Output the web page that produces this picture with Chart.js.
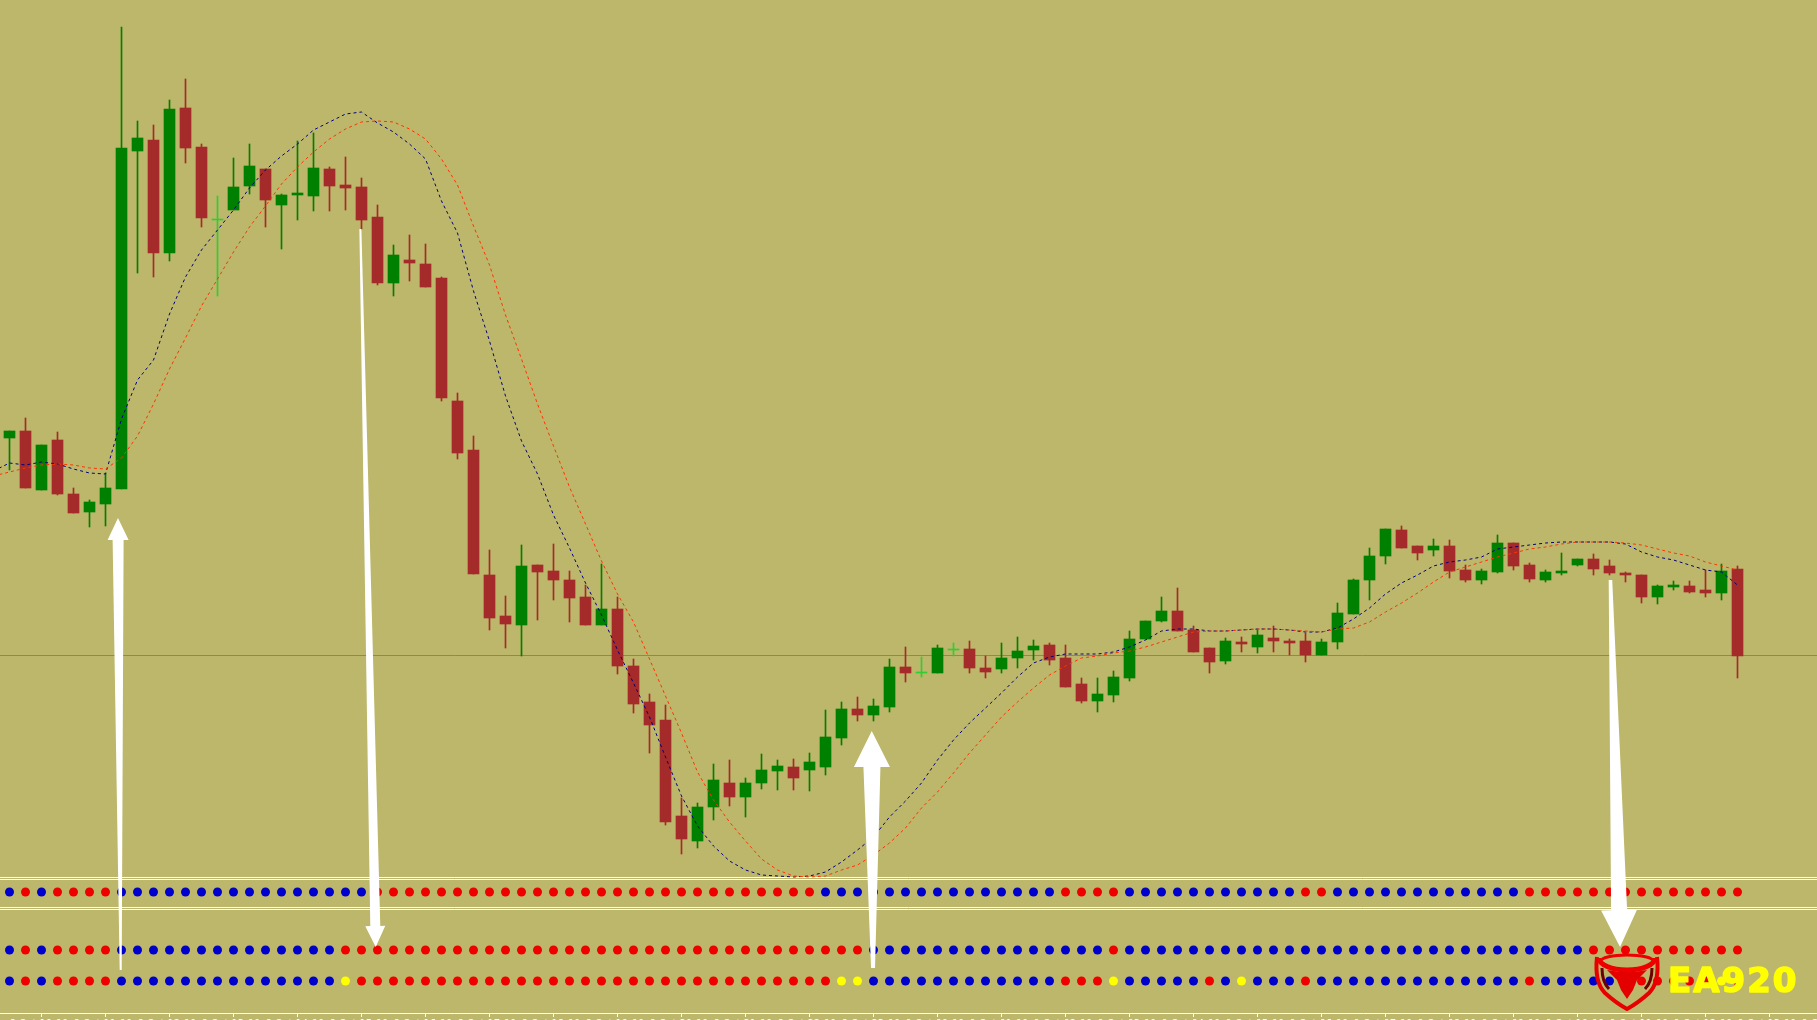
<!DOCTYPE html>
<html>
<head>
<meta charset="utf-8">
<title>EA920</title>
<script src="https://cdn.jsdelivr.net/npm/chart.js@4/dist/chart.umd.min.js"></script>
<style>
    html, body { margin: 0; padding: 0; background: #bdb76b; overflow: hidden; }
    canvas { display: block; }
</style>
</head>
<body>
<canvas id="priceChart" width="1817" height="1020"></canvas>
<script>
// Candles (price in points)
const candleHigh = [589,602,575,588,532,520,547,993,899,895,920,941,876,824,862,876,851,826,879,887,853,863,842,815,775,785,776,743,627,584,470,424,475,455,476,449,435,456,423,361,326,315,222,217,256,260,242,266,260,261,267,310,318,323,321,361,373,363,375,377,379,364,377,383,380,377,375,342,342,349,389,399,423,432,394,372,382,383,390,394,381,387,381,417,441,472,491,494,474,481,480,455,451,485,477,457,450,467,461,466,460,448,445,435,439,439,450,456,454];
const candleOpen = [582,589,530,580,526,508,516,531,869,880,767,912,873,800,810,834,851,815,825,824,851,835,833,803,737,760,756,742,619,570,445,404,395,455,449,440,423,395,411,354,318,300,204,179,213,237,223,237,249,253,250,253,282,311,305,313,353,347,347,370,371,352,351,362,370,375,362,336,319,325,342,381,399,409,390,372,359,378,373,382,379,379,365,378,406,440,464,490,474,470,474,450,440,448,477,455,440,447,455,461,454,447,445,423,433,434,430,427,451];
const candleClose = [589,532,575,526,507,518,532,872,882,767,911,872,802,801,833,854,820,825,827,852,834,832,800,737,765,757,733,622,567,446,402,396,454,448,440,422,395,411,354,316,295,198,181,213,240,223,237,250,254,242,258,283,311,305,314,353,347,348,372,371,352,348,362,369,374,360,333,319,326,343,381,399,409,389,368,358,379,376,385,379,377,365,378,407,440,464,491,472,467,474,449,440,449,477,454,441,448,449,461,451,447,445,423,434,435,428,427,449,364];
const candleLow = [550,532,530,525,507,493,494,531,747,743,759,857,793,724,810,826,793,771,800,809,809,810,791,735,724,739,733,619,561,446,390,372,364,400,420,398,395,395,346,307,267,195,166,172,200,214,203,231,230,230,229,245,275,299,299,308,338,343,347,364,347,342,347,352,360,355,333,317,308,318,339,381,398,389,368,347,356,368,367,368,365,358,365,371,406,420,456,472,460,464,442,438,436,447,450,438,438,445,454,445,445,438,417,416,430,427,423,420,342];
// Bars whose open and close were level: the chart paints these lime
const levelBars = [13, 57, 59];

// Moving averages, first value sits one bar left of the first candle
const fastAverage = [549,557,555,558,556,551,547,546,601,640,660,706,743,770,790,810,832,850,864,876,890,898,906,908,897,888,876,861,819,787,729,679,624,579,546,505,472,437,405,370,337,303,263,224,194,174,159,150,145,144,143,144,148,158,170,183,203,219,237,260,280,297,312,327,343,357,363,366,366,366,368,373,380,389,391,391,389,389,390,391,391,390,388,388,392,401,412,426,437,445,454,458,460,463,471,473,475,477,478,478,478,478,476,468,463,460,455,450,448,435];
const slowAverage = [544,548,552,555,556,555,552,551,562,584,616,651,682,714,741,768,793,814,836,853,868,881,891,898,899,898,891,881,861,835,794,755,705,661,616,574,533,496,459,426,398,361,324,287,248,220,198,179,161,150,144,143,144,150,155,165,177,192,212,228,247,267,285,303,318,332,345,354,362,364,367,369,373,378,383,388,389,389,390,391,391,390,389,388,391,392,398,408,417,427,438,448,453,458,463,467,471,473,476,478,478,478,477,475,471,467,464,458,454,450];

// Signal rows, run-length: colour letter + number of bars
const signalTop = 'b1 r1 b1 r4 b16 r28 b15 r4 b11 r2 b12 r14';
const signalMiddle = 'b1 r1 b1 r4 b14 r33 b15 r1 b29 r10';
const signalBottom = 'b1 r1 b1 r4 b14 y1 r30 y2 b12 r3 y1 b5 r1 b1 y1 b3 r1 b13 r1 b6 r5 y1 r1';
const signalLevels = [128, 70, 39];

// Horizontal levels: the grey price line and the indicator window borders
const priceLevel = [364.5];
const windowBorders = [142.5, 140.5, 112.5, 110.5];

// One label every 4 bars; only their top edge shows at the foot of the picture
const tickLabels = ['8 Oct 10:00','8 Oct 11:00','8 Oct 12:00','8 Oct 13:00','8 Oct 14:00','8 Oct 15:00','8 Oct 16:00','8 Oct 17:00','8 Oct 18:00','8 Oct 19:00','8 Oct 20:00','8 Oct 21:00','8 Oct 22:00','8 Oct 23:00','9 Oct 00:00','9 Oct 01:00','9 Oct 02:00','9 Oct 03:00','9 Oct 04:00','9 Oct 05:00','9 Oct 06:00','9 Oct 07:00','9 Oct 08:00','9 Oct 09:00','9 Oct 10:00','9 Oct 11:00','9 Oct 12:00','9 Oct 13:00','9 Oct 14:00'];

// White arrows: [bar, price] of tail and tip
const arrowTails = [[6.95, 50], [21.93, 791], [53.97, 52], [100.06, 440]];
const arrowTips = [[6.78, 502], [22.89, 73], [53.89, 289], [100.66, 73]];
const arrowShapes = [
    { tail: 2, neck: 11, head: 21, length: 22 },
    { tail: 2, neck: 10, head: 20, length: 21 },
    { tail: 4, neck: 17, head: 36, length: 36 },
    { tail: 3.5, neck: 16, head: 36, length: 37 }
];

const GREEN = '#008000';
const BROWN = '#a52a2a';
const LIME = '#32cd32';
const signalColors = { b: '#0000cd', r: '#ee0000', y: '#ffff00' };

function expandRuns(text) {
    const out = [];
    text.split(' ').forEach(run => {
        const count = parseInt(run.slice(1), 10);
        for (let i = 0; i < count; i++) {
            out.push(signalColors[run[0]]);
        }
    });
    return out;
}

function candleColor(i) {
    if (levelBars.includes(i)) return LIME;
    return candleClose[i] > candleOpen[i] ? GREEN : BROWN;
}

const xMin = -9.5 / 16;
const xMax = (1817 - 9.5) / 16;

function levelLine(value, color, order) {
    return {
        type: 'line',
        data: [{ x: xMin, y: value }, { x: xMax, y: value }],
        borderColor: color,
        borderWidth: 1,
        pointRadius: 0,
        order: order
    };
}

function averageLine(values, color) {
    return {
        type: 'line',
        data: values.map((v, i) => ({ x: i - 1, y: v })),
        borderColor: color,
        borderWidth: 1,
        borderDash: [3, 3],
        pointRadius: 0,
        tension: 0,
        order: 2
    };
}

function signalRow(text, level) {
    const colors = expandRuns(text);
    return {
        type: 'line',
        data: colors.map((c, i) => ({ x: i, y: level })),
        showLine: false,
        pointRadius: 4.5,
        pointBorderWidth: 0,
        pointBackgroundColor: colors,
        order: 1
    };
}

// Arrows go through the chart scales, the logo sits on top at the lower right
const overlayPlugin = {
    id: 'overlay',
    afterDraw(chart) {
        const ctx = chart.ctx;
        const xs = chart.scales.x;
        const ys = chart.scales.y;

        arrowTails.forEach((tail, n) => {
            const tip = arrowTips[n];
            const shape = arrowShapes[n];
            const x0 = xs.getPixelForValue(tail[0]);
            const y0 = ys.getPixelForValue(tail[1]);
            const x1 = xs.getPixelForValue(tip[0]);
            const y1 = ys.getPixelForValue(tip[1]);
            const len = Math.hypot(x1 - x0, y1 - y0);
            const dx = (x1 - x0) / len;
            const dy = (y1 - y0) / len;
            const nx = -dy;
            const ny = dx;
            const bx = x1 - dx * shape.length;
            const by = y1 - dy * shape.length;
            const side = (x, y, w) => [x + nx * w / 2, y + ny * w / 2];
            const pts = [
                side(x0, y0, shape.tail),
                side(bx, by, shape.neck),
                side(bx, by, shape.head),
                [x1, y1],
                side(bx, by, -shape.head),
                side(bx, by, -shape.neck),
                side(x0, y0, -shape.tail)
            ];
            ctx.save();
            ctx.fillStyle = '#ffffff';
            ctx.beginPath();
            pts.forEach((p, i) => i ? ctx.lineTo(p[0], p[1]) : ctx.moveTo(p[0], p[1]));
            ctx.closePath();
            ctx.fill();
            ctx.restore();
        });

        drawLogo(ctx);
    }
};

function drawLogo(ctx) {
    ctx.save();
    ctx.lineJoin = 'round';
    // shield, dark inner edge first
    ctx.strokeStyle = '#6e0000';
    ctx.lineWidth = 3;
    ctx.beginPath();
    ctx.moveTo(1602, 968);
    ctx.bezierCurveTo(1602, 978, 1604, 984, 1609, 989);
    ctx.moveTo(1652, 968);
    ctx.bezierCurveTo(1652, 978, 1650, 984, 1645, 989);
    ctx.stroke();
    ctx.strokeStyle = '#e80000';
    ctx.lineWidth = 4;
    ctx.beginPath();
    ctx.moveTo(1597, 957);
    ctx.bezierCurveTo(1595, 975, 1598, 986, 1605, 993);
    ctx.quadraticCurveTo(1616, 1003, 1627, 1009);
    ctx.quadraticCurveTo(1638, 1003, 1649, 993);
    ctx.bezierCurveTo(1656, 986, 1659, 975, 1657, 957);
    ctx.stroke();
    // horns
    ctx.strokeStyle = '#ee0000';
    ctx.lineWidth = 3;
    ctx.beginPath();
    ctx.ellipse(1627, 961, 26, 6, 0, Math.PI, 2 * Math.PI);
    ctx.stroke();
    ctx.lineWidth = 5;
    ctx.beginPath();
    ctx.ellipse(1627, 958, 28, 12, 0, 0, Math.PI);
    ctx.stroke();
    // head
    ctx.fillStyle = '#e40000';
    ctx.beginPath();
    ctx.moveTo(1607, 970);
    ctx.quadraticCurveTo(1627, 974, 1647, 970);
    ctx.lineTo(1637, 980);
    ctx.lineTo(1633, 990);
    ctx.lineTo(1627, 999);
    ctx.lineTo(1621, 990);
    ctx.lineTo(1617, 980);
    ctx.closePath();
    ctx.fill();
    // name
    ctx.font = 'bold 34px "DejaVu Sans"';
    ctx.letterSpacing = '2px';
    ctx.textAlign = 'left';
    ctx.textBaseline = 'alphabetic';
    ctx.fillStyle = '#ffff00';
    ctx.strokeStyle = '#ffff00';
    ctx.lineWidth = 1.5;
    ctx.strokeText('EA920', 1668, 992);
    ctx.fillText('EA920', 1668, 992);
    ctx.restore();
}

document.addEventListener('DOMContentLoaded', function () {
    const wickData = candleHigh.map((h, i) => ({ x: i, y: [candleLow[i], h] }));
    const bodyData = candleOpen.map((o, i) => ({ x: i, y: [o, candleClose[i]] }));
    const barColors = candleOpen.map((o, i) => candleColor(i));

    const datasets = [
        levelLine(priceLevel[0], '#7f8590', 6),
        { type: 'bar', data: wickData, backgroundColor: barColors, barThickness: 1, grouped: false, order: 4 },
        { type: 'bar', data: bodyData, backgroundColor: barColors, barThickness: 11, grouped: false, order: 3 },
        averageLine(slowAverage, '#ff3300'),
        averageLine(fastAverage, '#000080'),
        signalRow(signalTop, signalLevels[0]),
        signalRow(signalMiddle, signalLevels[1]),
        signalRow(signalBottom, signalLevels[2])
    ];
    windowBorders.forEach(v => datasets.push(levelLine(v, '#ffffff', 5)));

    new Chart(document.getElementById('priceChart'), {
        data: { datasets: datasets },
        plugins: [overlayPlugin],
        options: {
            responsive: false,
            animation: false,
            events: [],
            layout: { padding: 0, autoPadding: false },
            plugins: { legend: { display: false }, tooltip: { enabled: false } },
            scales: {
                x: {
                    type: 'linear',
                    min: xMin,
                    max: xMax,
                    offset: false,
                    afterFit(scale) {
                        scale.height = 7;
                        scale.paddingLeft = 0;
                        scale.paddingRight = 0;
                    },
                    border: { color: '#ffffff', width: 1 },
                    grid: { drawOnChartArea: false, drawTicks: true, tickColor: '#ffffff', tickLength: 4 },
                    ticks: {
                        stepSize: 4,
                        includeBounds: false,
                        autoSkip: false,
                        maxRotation: 0,
                        minRotation: 0,
                        align: 'start',
                        padding: 1,
                        color: '#ffffff',
                        font: { family: '"DejaVu Sans"', size: 10 },
                        callback: value => tickLabels[value / 4]
                    }
                },
                y: {
                    type: 'linear',
                    display: false,
                    min: 7,
                    max: 1020
                }
            }
        }
    });
});
</script>
</body>
</html>
